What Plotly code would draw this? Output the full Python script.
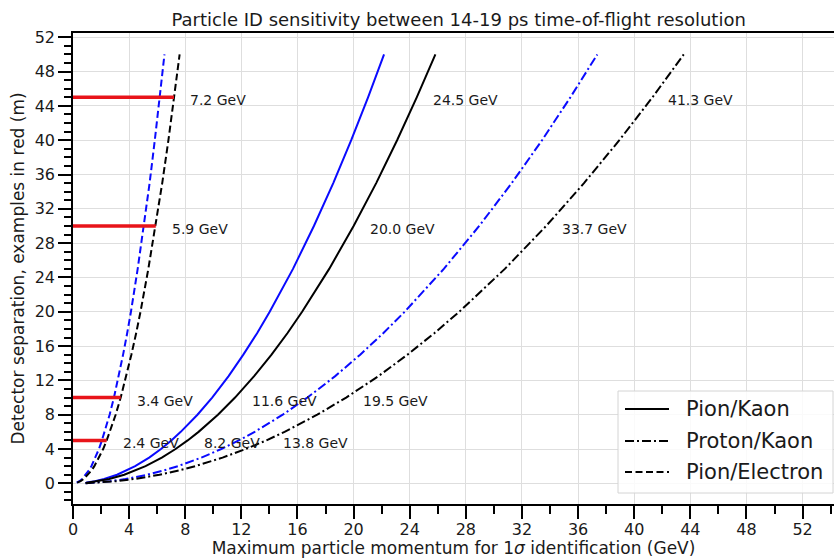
import plotly.graph_objects as go

# Detector separation (m) along each curve, and the momentum (GeV) at which
# the time-of-flight difference equals the timing resolution.
sep_grid = [0.1, 0.25, 0.5, 1, 1.5, 2, 3, 4, 5, 6, 8, 10, 12.5, 15, 17.5,
            20, 25, 30, 35, 40, 45, 50]

# Pion/Electron
pe_14ps_sep = [0.08] + sep_grid
pe_14ps_p = [0.30, 0.34, 0.54, 0.76, 1.07, 1.32, 1.52, 1.86, 2.15, 2.40, 2.63,
             3.04, 3.40, 3.80, 4.16, 4.50, 4.81, 5.37, 5.89, 6.36, 6.80, 7.21, 7.60]
pe_19ps_sep = [0.08] + sep_grid
pe_19ps_p = [0.26, 0.29, 0.46, 0.65, 0.92, 1.13, 1.31, 1.60, 1.85, 2.06, 2.26,
             2.61, 2.92, 3.26, 3.57, 3.86, 4.13, 4.61, 5.05, 5.46, 5.83, 6.19, 6.52]

# Pion/Kaon
pk_14ps_sep = [0.03] + sep_grid
pk_14ps_p = [0.90, 1.16, 1.83, 2.58, 3.65, 4.47, 5.17, 6.33, 7.31, 8.17, 8.95,
             10.33, 11.55, 12.91, 14.15, 15.28, 16.33, 18.26, 20.00, 21.61, 23.10,
             24.50, 25.83]
pk_19ps_sep = [0.03] + sep_grid
pk_19ps_p = [0.90, 0.99, 1.57, 2.22, 3.14, 3.84, 4.43, 5.43, 6.27, 7.01, 7.68,
             8.87, 9.92, 11.09, 12.14, 13.12, 14.02, 15.68, 17.17, 18.55, 19.83,
             21.03, 22.17]

# Proton/Kaon
prk_14ps_sep = [0.02] + sep_grid
prk_14ps_p = [0.90, 1.95, 3.08, 4.35, 6.16, 7.54, 8.71, 10.66, 12.31, 13.77, 15.08,
              17.41, 19.47, 21.77, 23.84, 25.75, 27.53, 30.78, 33.72, 36.42, 38.94,
              41.30, 43.53]
prk_19ps_sep = [0.02] + sep_grid
prk_19ps_p = [0.90, 1.67, 2.64, 3.74, 5.29, 6.47, 7.47, 9.15, 10.57, 11.82, 12.95,
              14.95, 16.71, 18.69, 20.47, 22.11, 23.64, 26.43, 28.95, 31.27, 33.43,
              35.45, 37.37]

# Worked examples (14 ps resolution) at fixed detector separations
example_sep = [5, 10, 30, 45]
example_pe_p = [2.4, 3.4, 5.9, 7.2]
example_pk_p = [8.2, 11.6, 20.0, 24.5]
example_prk_p = [13.8, 19.5, 33.7, 41.3]

x_ticks = list(range(0, 56, 4))
y_ticks = list(range(0, 56, 4))

legend_names = ["Pion/Kaon", "Proton/Kaon", "Pion/Electron"]

FONT = "DejaVu Sans"
TXT = "#1a1a1a"
BLUE = "#0a0aff"
DASH = "7px,3.5px"
DASHDOT = "9px,3px,2px,3px"

W, H = 834, 558
ML, MR, MT, MB = 73, 0, 33, 54
PW, PH = W - ML - MR, H - MT - MB

fig = go.Figure()


def curve(p, sep, color, dash):
    fig.add_trace(go.Scatter(
        x=p, y=sep, mode="lines",
        line=dict(color=color, width=2, dash=dash),
        showlegend=False, hoverinfo="skip",
    ))


curve(pe_19ps_p, pe_19ps_sep, BLUE, DASH)
curve(pk_19ps_p, pk_19ps_sep, BLUE, "solid")
curve(prk_19ps_p, prk_19ps_sep, BLUE, DASHDOT)
curve(pk_14ps_p, pk_14ps_sep, "black", "solid")
curve(prk_14ps_p, prk_14ps_sep, "black", DASHDOT)
curve(pe_14ps_p, pe_14ps_sep, "black", DASH)

# Red example bars from the axis to the pion/electron momentum
for sep, p in zip(example_sep, example_pe_p):
    fig.add_trace(go.Scatter(
        x=[0, p], y=[sep, sep], mode="lines",
        line=dict(color="#e8141a", width=3.5),
        showlegend=False, hoverinfo="skip",
    ))

# Momentum labels next to each example
for group in (example_pe_p, example_pk_p, example_prk_p):
    for sep, p in zip(example_sep, group):
        fig.add_annotation(
            x=p, y=sep, text=f"{p:.1f} GeV", showarrow=False,
            xanchor="left", yanchor="middle", xshift=14, yshift=-3,
            font=dict(family=FONT, size=14, color=TXT),
        )


# Legend box drawn by hand (lower right), positioned in pixels
def px_x(v):
    return (v - ML) / PW


def px_y(v):
    return (H - MB - v) / PH


fig.add_shape(type="rect", xref="paper", yref="paper",
              x0=px_x(618), x1=px_x(833), y0=px_y(493), y1=px_y(391),
              line=dict(color="#d4d4d4", width=1),
              fillcolor="rgba(255,255,255,0.85)", layer="above")
row_y = [409, 441, 472]
for name, dash, ry in zip(legend_names, ["solid", DASHDOT, DASH], row_y):
    fig.add_shape(type="line", xref="paper", yref="paper",
                  x0=px_x(625), x1=px_x(669), y0=px_y(ry), y1=px_y(ry),
                  line=dict(color="black", width=2, dash=dash), layer="above")
    fig.add_annotation(xref="paper", yref="paper", x=px_x(684), y=px_y(ry),
                       text=name, showarrow=False, xanchor="left", yanchor="middle",
                       font=dict(family=FONT, size=21, color=TXT))

axis_common = dict(
    showline=True, linecolor="black", linewidth=1.5,
    ticks="outside", tickcolor="black", tickwidth=2,
    showgrid=True, gridcolor="#dedede", gridwidth=1,
    zeroline=False,
    tickfont=dict(family=FONT, size=16, color=TXT),
)

fig.update_xaxes(
    range=[0, 54.24], tickvals=x_ticks, ticklen=13, mirror=True,
    ticklabelstandoff=-3,
    minor=dict(dtick=2, tick0=0, ticks="outside", ticklen=8, tickwidth=2,
               tickcolor="black", showgrid=False),
    title=dict(text="Maximum particle momentum for 1<i>σ</i> identification (GeV)",
               font=dict(family=FONT, size=17, color=TXT), standoff=0),
    **axis_common,
)
fig.update_yaxes(
    range=[-2.41, 52.5], tickvals=y_ticks, ticklen=13,
    minor=dict(dtick=1, tick0=0, ticks="outside", ticklen=7, tickwidth=2,
               tickcolor="black", showgrid=False),
    title=dict(text="Detector separation, examples in red (m)",
               font=dict(family=FONT, size=17, color=TXT), standoff=6),
    **axis_common,
)

fig.update_layout(
    width=W, height=H,
    margin=dict(l=ML, r=MR, t=MT, b=MB, autoexpand=False),
    paper_bgcolor="white", plot_bgcolor="white",
    title=dict(text="Particle ID sensitivity between 14-19 ps time-of-flight resolution",
               x=0.55, xanchor="center", y=0.965, yanchor="middle",
               font=dict(family=FONT, size=18, color=TXT)),
    showlegend=False,
)

fig.write_html("out.html")
